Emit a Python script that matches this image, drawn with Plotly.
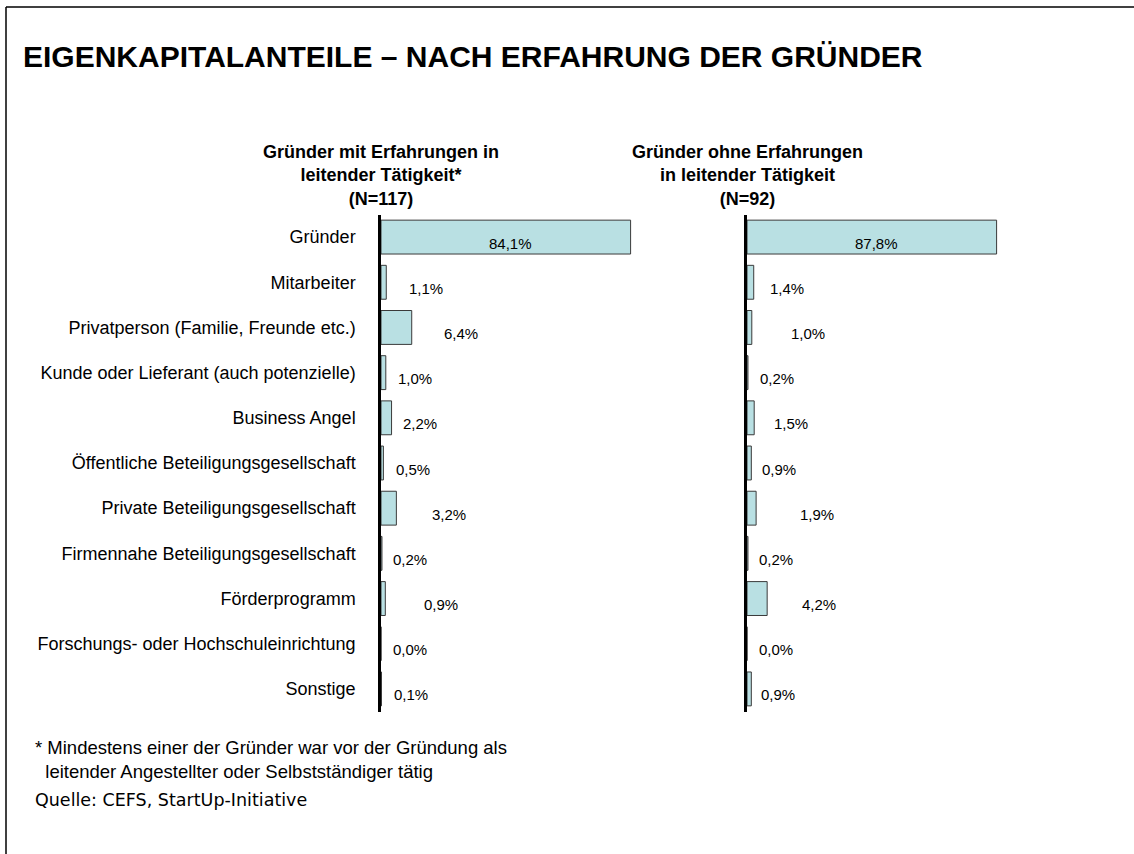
import plotly.graph_objects as go

## Daten ---------------------------------------------------------------------------------------------------------

kategorien = ["Gründer", "Mitarbeiter", "Privatperson (Familie, Freunde etc.)",
              "Kunde oder Lieferant (auch potenzielle)", "Business Angel",
              "Öffentliche Beteiligungsgesellschaft", "Private Beteiligungsgesellschaft",
              "Firmennahe Beteiligungsgesellschaft", "Förderprogramm",
              "Forschungs- oder Hochschuleinrichtung", "Sonstige"]

mit_erfahrung = [84.1, 1.1, 6.4, 1.0, 2.2, 0.5, 3.2, 0.2, 0.9, 0.0, 0.1]
ohne_erfahrung = [87.8, 1.4, 1.0, 0.2, 1.5, 0.9, 1.9, 0.2, 4.2, 0.0, 0.9]

titel_links = "Gründer mit Erfahrungen in<br>leitender Tätigkeit*<br>(N=117)"
titel_rechts = "Gründer ohne Erfahrungen<br>in leitender Tätigkeit<br>(N=92)"

## Layout ---------------------------------------------------------------------------------------------------------

W, H = 1134, 854
FONT = "Liberation Sans, Arial, sans-serif"
BRUCH = 52.0          # Achsenbruch: grosse Balken werden hier abgeschnitten gezeichnet
PX_PRO_PROZENT = 4.8
BREITE = 262          # Breite eines Panels in px

# Abstand (px) Balkenende -> Beschriftung, wie im Original von Hand gesetzt
abstand_links = [0, 21, 30, 10, 9, 11, 34, 9, 37, 10, 11]
abstand_rechts = [0, 14, 37, 10, 18, 9, 42, 9, 33, 10, 8]

x_links = 381
x_rechts = 747
y_oben, y_unten = 214.5, 711.5


def px_x(px):
    return px / W


def px_y(py):
    return 1 - py / H


def fmt(v):
    return f"{v:.1f}".replace(".", ",") + "%"


fig = go.Figure()

for werte, xa, ya in [(mit_erfahrung, "x", "y"), (ohne_erfahrung, "x2", "y2")]:
    fig.add_trace(go.Bar(
        x=[min(v, BRUCH) for v in werte], y=kategorien, orientation="h",
        xaxis=xa, yaxis=ya,
        marker=dict(color="#b9e0e3", line=dict(color="#3a3a3a", width=1)),
        hoverinfo="skip", showlegend=False))

annots = []
for werte, abst, xref, yref in [(mit_erfahrung, abstand_links, "x", "y"),
                                (ohne_erfahrung, abstand_rechts, "x2", "y2")]:
    for i, v in enumerate(werte):
        if v > BRUCH:
            annots.append(dict(x=BRUCH / 2, y=kategorien[i], xref=xref, yref=yref,
                               text=fmt(v), showarrow=False, xanchor="center",
                               xshift=5, yshift=-6,
                               font=dict(family=FONT, size=15, color="black")))
        else:
            annots.append(dict(x=v, y=kategorien[i], xref=xref, yref=yref,
                               text=fmt(v), showarrow=False, xanchor="left",
                               xshift=abst[i], yshift=-6,
                               font=dict(family=FONT, size=15, color="black")))

# Titel und Panel-Ueberschriften
annots.append(dict(x=px_x(21), y=px_y(57), xref="paper", yref="paper", xanchor="left",
                   yanchor="middle", showarrow=False,
                   text="<b>EIGENKAPITALANTEILE – NACH ERFAHRUNG DER GRÜNDER</b>",
                   font=dict(family=FONT, size=30, color="black")))
for xp, txt in [(x_links, titel_links), (x_rechts, titel_rechts)]:
    annots.append(dict(x=px_x(xp), y=px_y(140), xref="paper", yref="paper",
                       xanchor="center", yanchor="top", showarrow=False,
                       text="<b>" + txt + "</b>",
                       font=dict(family=FONT, size=18, color="black")))

# Fussnote und Quelle
annots.append(dict(x=px_x(33), y=px_y(735), xref="paper", yref="paper", xanchor="left",
                   yanchor="top", showarrow=False, align="left",
                   text="* Mindestens einer der Gründer war vor der Gründung als<br>"
                        "  leitender Angestellter oder Selbstständiger tätig",
                   font=dict(family=FONT, size=18.5, color="black")))
annots.append(dict(x=px_x(33), y=px_y(800), xref="paper", yref="paper", xanchor="left",
                   yanchor="middle", showarrow=False,
                   text="Quelle: CEFS, StartUp-Initiative",
                   font=dict(family="DejaVu Sans, Verdana, sans-serif", size=17.5, color="black")))

achse_x = dict(visible=False, range=[0, BREITE / PX_PRO_PROZENT], fixedrange=True)
achse_y = dict(type="category", autorange="reversed", showline=True, linecolor="black",
               linewidth=2.5, showgrid=False, zeroline=False, ticks="",
               domain=[px_y(y_unten), px_y(y_oben)])

fig.update_layout(
    width=W, height=H,
    margin=dict(l=0, r=0, t=0, b=0),
    paper_bgcolor="white", plot_bgcolor="white",
    bargap=0.25,
    xaxis=dict(achse_x, domain=[px_x(x_links), px_x(x_links + BREITE)]),
    xaxis2=dict(achse_x, domain=[px_x(x_rechts), px_x(x_rechts + BREITE)]),
    yaxis=dict(achse_y, anchor="x", ticklabelstandoff=19,
               tickfont=dict(family=FONT, size=18, color="black")),
    yaxis2=dict(achse_y, anchor="x2", showticklabels=False),
    annotations=annots,
    shapes=[
        dict(type="line", xref="paper", yref="paper", x0=px_x(6), x1=1, y0=px_y(7), y1=px_y(7),
             line=dict(color="black", width=1.5)),
        dict(type="line", xref="paper", yref="paper", x0=px_x(6), x1=px_x(6), y0=px_y(7), y1=0,
             line=dict(color="black", width=1.5)),
    ],
)

fig.write_html("out.html", config={"displayModeBar": False},
               post_script="document.body.style.margin='0';")
